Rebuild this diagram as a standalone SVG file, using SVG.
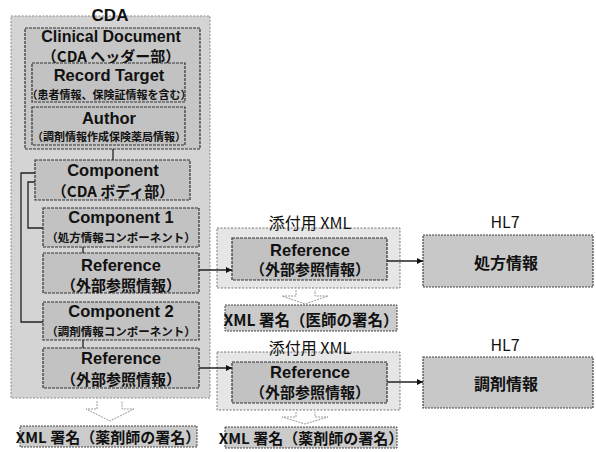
<svg xmlns="http://www.w3.org/2000/svg" width="596" height="452" viewBox="0 0 596 452">
<style>
text{font-family:"Liberation Sans","Noto Sans CJK JP",sans-serif;fill:#111;text-anchor:middle;dominant-baseline:central}
.jp{font-family:"Noto Sans CJK JP","Liberation Sans",sans-serif;font-weight:bold}
.en{font-weight:bold;font-size:16.5px}
.lbl{font-family:"Noto Sans CJK JP","Liberation Sans",sans-serif;font-size:16px}
.outer{fill:#d4d4d4;stroke:#8a8a8a;stroke-width:1;stroke-dasharray:2 1.5}
.frame{fill:#e6e6e6;stroke:#777;stroke-width:1;stroke-dasharray:2 1.5}
.box{fill:#c2c2c2;stroke:#333;stroke-width:1.2;stroke-dasharray:3 1}
.sig{fill:#cbcbcb;stroke:#444;stroke-width:1;stroke-dasharray:2 1}
.hl7{fill:#c8c8c8;stroke:#444;stroke-width:1.2;stroke-dasharray:2 1}
.ln{fill:none;stroke:#222;stroke-width:1.3}
.hol{fill:#fff;stroke:#9a9a9a;stroke-width:1;stroke-dasharray:2 1}
</style>
<defs>
<marker id="ah" viewBox="0 0 8 8" refX="8" refY="4" markerWidth="6" markerHeight="6" markerUnits="userSpaceOnUse" orient="auto">
<path d="M0,0 L8,4 L0,8 z" fill="#111"/>
</marker>
</defs>
<rect width="596" height="452" fill="#fff"/>

<g id="cda">
<rect class="outer" x="11" y="16" width="199" height="382"/>
<text x="110" y="15" style="font-weight:bold;font-size:17px">CDA</text>
</g>
<g id="clinical-document">
<rect class="box" x="25" y="28" width="175" height="121" style="fill:#c6c6c6"/>
<text class="en" x="111" y="36.5" style="font-size:16px">Clinical Document</text>
<text class="jp" x="111" y="55" font-size="15">（CDA ヘッダー部）</text>
</g>
<g id="record-target">
<rect class="box" x="32" y="63" width="153" height="39"/>
<text class="en" x="109" y="75">Record Target</text>
<text class="jp" x="109" y="94" font-size="11">（患者情報、保険証情報を含む）</text>
</g>
<g id="author">
<rect class="box" x="32" y="107" width="153" height="38"/>
<text class="en" x="109" y="118">Author</text>
<text class="jp" x="109" y="136" font-size="11">（調剤情報作成保険薬局情報）</text>
</g>
<g id="component">
<rect class="box" x="35" y="160" width="155" height="40"/>
<text class="en" x="113" y="170">Component</text>
<text class="jp" x="113" y="190" font-size="15">（CDA ボディ部）</text>
</g>
<g id="component1">
<rect class="box" x="43" y="208" width="156" height="39"/>
<text class="en" x="121" y="217">Component 1</text>
<text class="jp" x="121" y="237" font-size="11.5">（処方情報コンポーネント）</text>
</g>
<g id="reference1">
<rect class="box" x="43" y="253" width="156" height="40"/>
<text class="en" x="121" y="265">Reference</text>
<text class="jp" x="121" y="284" font-size="15">（外部参照情報）</text>
</g>
<g id="component2">
<rect class="box" x="43" y="302" width="156" height="38"/>
<text class="en" x="121" y="311">Component 2</text>
<text class="jp" x="121" y="331" font-size="11.5">（調剤情報コンポーネント）</text>
</g>
<g id="reference2">
<rect class="box" x="43" y="348" width="156" height="40"/>
<text class="en" x="121" y="358">Reference</text>
<text class="jp" x="121" y="378" font-size="15">（外部参照情報）</text>
</g>
<g id="sig-cda">
<rect class="sig" x="20" y="426" width="177" height="21"/>
<text class="jp" x="108" y="436.5" font-size="15">XML 署名（薬剤師の署名）</text>
</g>

<g id="attach1">
<rect class="frame" x="217" y="228" width="183" height="60"/>
<text class="lbl" x="310" y="222" font-size="17">添付用 XML</text>
</g>
<g id="attach1-ref">
<rect class="box" x="232" y="238" width="155" height="42"/>
<text class="en" x="310" y="250">Reference</text>
<text class="jp" x="310" y="268" font-size="15">（外部参照情報）</text>
</g>
<g id="sig-doctor">
<rect class="sig" x="225" y="305" width="172" height="26"/>
<text class="jp" x="311" y="319" font-size="15.5">XML 署名（医師の署名）</text>
</g>
<g id="attach2">
<rect class="frame" x="217" y="352" width="183" height="58"/>
<text class="lbl" x="310" y="347" font-size="17">添付用 XML</text>
</g>
<g id="attach2-ref">
<rect class="box" x="232" y="362" width="155" height="41"/>
<text class="en" x="310" y="372">Reference</text>
<text class="jp" x="310" y="391" font-size="15">（外部参照情報）</text>
</g>
<g id="sig-pharm">
<rect class="sig" x="225" y="427" width="172" height="21"/>
<text class="jp" x="311" y="437.5" font-size="15">XML 署名（薬剤師の署名）</text>
</g>

<g id="hl7-rx">
<text class="lbl" x="505" y="221" font-size="14">HL7</text>
<rect class="hl7" x="423" y="235" width="170" height="52"/>
<text class="jp" x="506" y="262" font-size="16">処方情報</text>
</g>
<g id="hl7-disp">
<text class="lbl" x="505" y="344" font-size="14">HL7</text>
<rect class="hl7" x="423" y="357" width="170" height="51"/>
<text class="jp" x="506" y="383" font-size="16">調剤情報</text>
</g>

<g id="connectors">
<path class="ln" d="M113,149 V160"/>
<path class="ln" d="M35,173 H21 V322 H43"/>
<path class="ln" d="M35,182 H28 V228 H43"/>
<path class="ln" d="M83,247 V253"/>
<path class="ln" d="M83,340 V348"/>
<path class="ln" d="M199,270 H232" marker-end="url(#ah)"/>
<path class="ln" d="M199,368 H232" marker-end="url(#ah)"/>
<path class="ln" d="M387,261 H423" marker-end="url(#ah)"/>
<path class="ln" d="M387,382 H423" marker-end="url(#ah)"/>
<path class="hol" d="M97,401 V409 H86 L110,421 L134,409 H122 V401"/>
<path class="hol" d="M296,290 V296 H282 L305,304 L328,296 H315 V290"/>
<path class="hol" d="M296,412 V417 H282 L305,424 L328,417 H315 V412"/>
</g>
</svg>
